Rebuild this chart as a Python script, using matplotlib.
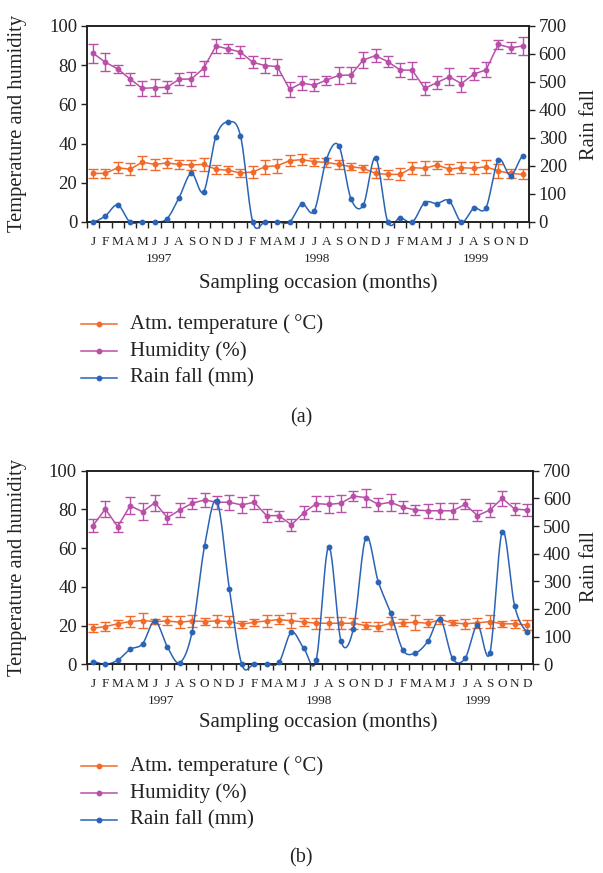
import numpy as np
import matplotlib
matplotlib.use("Agg")
import matplotlib.pyplot as plt
from matplotlib.lines import Line2D

plt.rcParams['font.family'] = ['Liberation Serif', 'DejaVu Serif']

months = ["J", "F", "M", "A", "M", "J", "J", "A", "S", "O", "N", "D"] * 3
years = ["1997", "1998", "1999"]

# ---- panel (a) ----
temp_a = [24.8, 24.8, 27.7, 26.9, 30.5, 29.4, 30.1, 29.4, 29.1, 29.4, 26.9, 26.4,
          25.0, 25.5, 28.2, 28.7, 31.3, 31.8, 30.8, 30.4, 29.4, 28.2, 27.4, 24.8,
          24.3, 24.3, 27.7, 27.4, 29.1, 27.0, 27.7, 27.4, 28.2, 26.0, 24.8, 24.3]
temp_a_err = [2.4, 2.4, 2.7, 3.1, 3.4, 2.7, 2.6, 2.4, 2.6, 3.2, 2.3, 2.0,
              2.1, 3.0, 3.6, 3.6, 2.8, 2.9, 2.1, 2.4, 2.3, 1.7, 1.7, 2.6,
              2.4, 3.0, 3.0, 3.6, 1.9, 2.6, 2.8, 3.0, 3.2, 3.7, 2.4, 2.6]
hum_a = [86.1, 81.5, 78.1, 73.0, 68.2, 68.5, 68.7, 72.8, 73.0, 78.4, 89.8, 88.3,
         86.7, 81.5, 79.8, 79.3, 67.7, 70.9, 69.8, 72.4, 74.8, 75.0, 82.7, 84.9,
         81.8, 77.6, 77.4, 68.2, 71.1, 74.1, 70.6, 75.5, 77.6, 90.6, 88.9, 89.8]
hum_a_err = [4.8, 4.7, 2.1, 3.2, 3.7, 4.4, 3.0, 3.0, 3.5, 3.7, 3.8, 2.3,
             3.0, 3.1, 3.8, 4.1, 3.8, 3.6, 3.2, 2.3, 4.5, 4.3, 3.9, 3.2,
             2.7, 3.4, 4.3, 3.2, 3.3, 4.3, 4.1, 3.0, 3.8, 2.4, 2.7, 4.6]
rain_a = [0, 22, 61, 0, 0, 0, 11, 87, 174, 108, 305, 358,
          308, 0, 0, 0, 0, 64, 39, 224, 273, 83, 60, 230,
          0, 15, 0, 69, 66, 76, 0, 49, 51, 221, 166, 237]

# ---- panel (b) ----
temp_b = [18.6, 19.5, 20.9, 22.1, 22.6, 22.1, 22.4, 21.7, 22.4, 22.1, 22.4, 22.1,
          20.7, 21.7, 22.4, 23.1, 22.5, 21.9, 21.2, 21.2, 21.2, 21.2, 20.0, 19.5,
          21.2, 21.4, 21.7, 21.2, 23.1, 21.4, 20.9, 21.4, 22.1, 20.9, 20.9, 20.3]
temp_b_err = [2.1, 2.1, 2.1, 2.6, 3.8, 1.5, 2.3, 3.2, 3.0, 1.8, 3.0, 2.6,
              1.8, 1.8, 3.0, 2.3, 3.8, 2.2, 2.9, 3.2, 3.0, 2.8, 1.7, 2.3,
              3.2, 1.8, 3.8, 2.0, 2.3, 1.3, 2.6, 2.7, 3.3, 1.5, 2.2, 2.8]
hum_b = [71.6, 80.2, 71.1, 81.9, 78.8, 83.5, 75.7, 79.7, 83.2, 84.9, 83.7, 83.7,
         82.3, 83.7, 76.8, 76.8, 72.0, 78.3, 83.0, 82.6, 83.2, 86.9, 86.1, 82.6,
         83.7, 81.1, 79.7, 79.3, 79.3, 79.3, 82.6, 76.8, 79.7, 85.7, 80.2, 79.7]
hum_b_err = [3.3, 3.9, 2.6, 4.3, 4.5, 4.2, 3.0, 3.4, 2.8, 3.4, 3.3, 3.9,
             4.0, 3.7, 3.4, 2.6, 3.3, 3.4, 3.9, 4.3, 4.3, 2.6, 4.6, 3.4,
             4.3, 3.0, 2.8, 3.7, 4.0, 4.0, 2.6, 3.0, 3.4, 4.0, 3.2, 3.3]
rain_b = [10, 0, 15, 54, 74, 157, 63, 6, 118, 428, 590, 273,
          0, 0, 0, 7, 116, 58, 15, 425, 84, 129, 458, 299,
          186, 51, 41, 83, 163, 21, 21, 141, 41, 480, 210, 117]

C_TEMP = "#f26a2a"
C_HUM = "#b94fa8"
C_RAIN = "#2b63b5"
C_AX = "#222222"

FW, FH = 603, 873


def catmull_rom(x, y, n=24):
    x = np.asarray(x, float)
    y = np.asarray(y, float)
    px = np.concatenate([[2 * x[0] - x[1]], x, [2 * x[-1] - x[-2]]])
    py = np.concatenate([[y[0]], y, [y[-1]]])
    xs, ys = [], []
    t = np.linspace(0, 1, n, endpoint=False)
    for i in range(1, len(px) - 2):
        for P, out in ((px, xs), (py, ys)):
            p0, p1, p2, p3 = P[i - 1], P[i], P[i + 1], P[i + 2]
            out.append(0.5 * ((2 * p1) + (-p0 + p2) * t
                              + (2 * p0 - 5 * p1 + 4 * p2 - p3) * t ** 2
                              + (-p0 + 3 * p1 - 3 * p2 + p3) * t ** 3))
    xs.append([x[-1]])
    ys.append([y[-1]])
    return np.concatenate(xs), np.concatenate(ys)


def panel(rect_px, temp, temp_err, hum, hum_err, rain, year_pos):
    l, t, r, b = rect_px
    ax = fig.add_axes([l / FW, 1 - b / FH, (r - l) / FW, (b - t) / FH])
    x = np.arange(len(months))
    ekw = dict(capsize=3.4, elinewidth=1.0, capthick=1.0, lw=1.1,
               marker="o", ms=3.2, zorder=3)
    ax.errorbar(x, hum, yerr=hum_err, color=C_HUM, **ekw)
    ax.errorbar(x, temp, yerr=temp_err, color=C_TEMP, **ekw)
    ax.set_xlim(-0.5, len(months) - 0.5)
    ax.set_ylim(0, 100)
    ax.set_yticks(np.arange(0, 101, 20))
    ax.set_xticks(np.arange(-0.5, len(months), 1.0))
    ax.set_xticklabels([])
    ax.set_xticks(x, minor=True)
    ax.set_xticklabels(months, minor=True, fontsize=9.5)
    ax.tick_params(axis="x", which="major", direction="out", length=4,
                   width=1.0, color=C_AX)
    ax.tick_params(axis="x", which="minor", length=0, pad=10, colors=C_AX)
    ax.tick_params(axis="y", direction="out", length=4, width=1.0,
                   labelsize=13.5, colors=C_AX, pad=3)
    for s in ax.spines.values():
        s.set_linewidth(1.2)
        s.set_color(C_AX)

    ax2 = ax.twinx()
    ax2.set_ylim(0, 700)
    ax2.set_yticks(np.arange(0, 701, 100))
    ax2.tick_params(axis="y", direction="out", length=4, width=1.0,
                    labelsize=13.5, colors=C_AX, pad=3)
    for s in ax2.spines.values():
        s.set_linewidth(1.2)
        s.set_color(C_AX)
    sx, sy = catmull_rom(x, rain)
    ax2.plot(sx, sy, color=C_RAIN, lw=1.1, clip_on=False, zorder=2)
    ax2.plot(x, rain, "o", color=C_RAIN, ms=3.2, clip_on=False, zorder=3)

    for yr, xp in zip(years, year_pos):
        ax.annotate(yr, xy=(xp, 0), xycoords=("data", "axes fraction"),
                    xytext=(0, -37 * 0.72), textcoords="offset points",
                    ha="center", va="center", fontsize=9.5, color=C_AX)
    return ax


def labels(ycen, yxl, yleg, tag, ytag):
    fig.text(18 / FW, 1 - ycen / FH, "Temperature and humidity", rotation=90,
             ha="center", va="center", fontsize=14.8, color=C_AX)
    fig.text(589 / FW, 1 - ycen / FH, "Rain fall", rotation=90,
             ha="center", va="center", fontsize=14.8, color=C_AX)
    fig.text(318 / FW, 1 - yxl / FH, "Sampling occasion (months)",
             ha="center", va="center", fontsize=15, color=C_AX)
    entries = [("Atm. temperature (\u2009\u00b0C)", C_TEMP),
               ("Humidity (%)", C_HUM),
               ("Rain fall (mm)", C_RAIN)]
    for k, (txt, c) in enumerate(entries):
        yy = 1 - (yleg + 26.8 * k) / FH
        fig.add_artist(Line2D([81 / FW, 117 / FW], [yy, yy], color=c, lw=1.1,
                              transform=fig.transFigure))
        fig.add_artist(Line2D([99 / FW], [yy], color=c, marker="o", ms=3.2,
                              transform=fig.transFigure))
        fig.text(130 / FW, yy, txt, ha="left", va="center", fontsize=15,
                 color=C_AX)
    fig.text(301 / FW, 1 - ytag / FH, tag, ha="center", va="center",
             fontsize=14.5, color=C_AX)


fig = plt.figure(figsize=(FW / 100, FH / 100), dpi=100)
panel((87, 26, 529, 222), temp_a, temp_a_err, hum_a, hum_a_err, rain_a,
      [5.4, 18.25, 31.2])
labels(124, 283, 324, "(a)", 418)
panel((86.7, 470.7, 533.3, 664.3), temp_b, temp_b_err, hum_b, hum_b_err,
      rain_b, [5.45, 18.2, 31.0])
labels(567, 722, 766, "(b)", 858)

fig.savefig("out.png", dpi=100)
